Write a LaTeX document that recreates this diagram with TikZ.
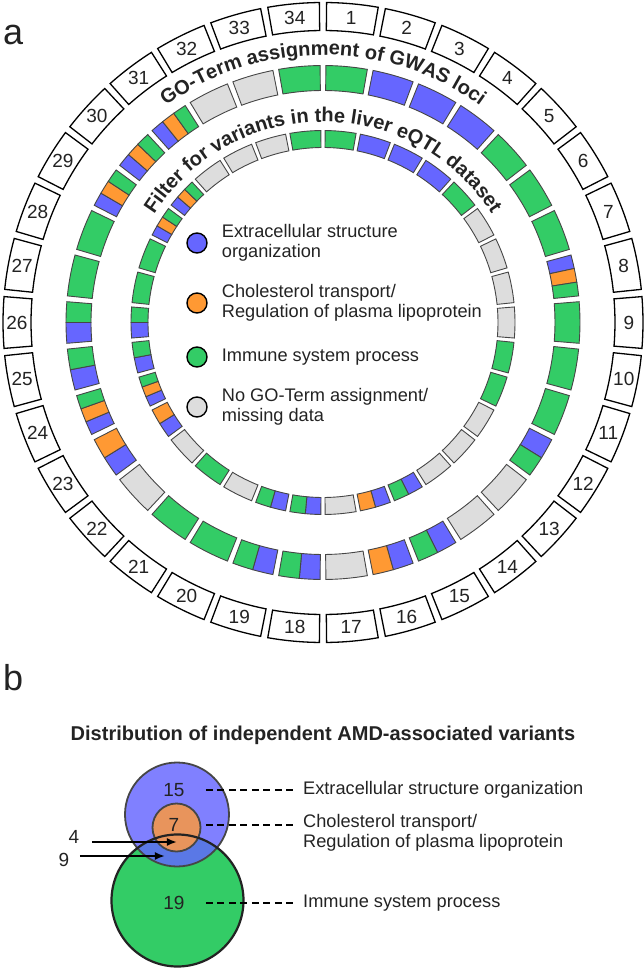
\documentclass[tikz,border=0pt]{standalone}
\usepackage{fontspec}
\setmainfont{Liberation Sans}
\usepackage{tikz}
\usetikzlibrary{positioning, arrows.meta, calc, decorations.text}
\definecolor{segB}{RGB}{102,102,255}
\definecolor{segO}{RGB}{255,153,51}
\definecolor{segG}{RGB}{51,204,102}
\definecolor{segN}{RGB}{221,221,221}
\definecolor{VennBlue}{RGB}{128,128,255}
\definecolor{VennOrange}{RGB}{232,148,92}
\definecolor{VennMix}{RGB}{90,120,230}
\definecolor{InkColor}{RGB}{35,35,35}
\definecolor{EdgeColor}{RGB}{70,70,70}
\newcommand{\ringtitlefont}{\bfseries\fontsize{20}{24}\selectfont}
% #1 inner radius, #2 outer radius, #3 one entry per locus, listed clockwise
\newcommand{\ringsegments}[3]{%
  \foreach \cats [count=\k] in {#3} {
    \foreach \c [count=\n] in \cats {\xdef\nparts{\n}}
    \foreach \c [count=\j] in \cats {
      \pgfmathsetmacro\angA{90-((\k-1)*360/34+0.65+(\j-1)*(360/34-1.3)/\nparts)}
      \pgfmathsetmacro\angB{90-((\k-1)*360/34+0.65+\j*(360/34-1.3)/\nparts)}
      \draw[segment, fill=seg\c] (\angA:#1) arc[start angle=\angA, end angle=\angB, radius=#1]
        -- (\angB:#2) arc[start angle=\angB, end angle=\angA, radius=#2] -- cycle;
    }
  }%
}

\begin{document}
\begin{tikzpicture}[x=1pt, y=1pt,
    numbox/.style={draw=black, line width=1.3pt, fill=white},
    segment/.style={draw=EdgeColor, line width=0.9pt},
    numtext/.style={font=\fontsize{19}{22}\selectfont, text=InkColor, inner sep=0pt},
    keydot/.style={circle, draw=black, line width=1.4pt, minimum size=20pt, inner sep=0pt},
    keytext/.style={font=\fontsize{18.2}{20.5}\selectfont, text=InkColor, align=left, inner sep=0pt},
    panel/.style={font=\fontsize{36}{36}\selectfont, text=InkColor, anchor=base west, inner sep=0pt},
    leader/.style={dash pattern=on 7pt off 4.5pt, line width=1.5pt, draw=black},
    pointer/.style={-{Latex[length=10pt, width=8pt]}, line width=2.2pt, draw=black}]
  \useasboundingbox (-323,-646.5) rectangle (321,322.5);

  % outer ring of locus numbers
  \foreach \k in {1,...,34} {
    \pgfmathsetmacro\angA{90-(\k-1)*360/34-0.65}
    \pgfmathsetmacro\angB{90-\k*360/34+0.65}
    \draw[numbox] (\angA:292) arc[start angle=\angA, end angle=\angB, radius=292]
      -- (\angB:320) arc[start angle=\angB, end angle=\angA, radius=320] -- cycle;
    \node[numtext] (num\k) at ({90-(\k-0.5)*360/34}:306) {\k};
  }

  % GO-Term assignment of GWAS loci
  \ringsegments{232}{257}{{G},{B},{B},{B},{G},{G},{G},{B,O,G},{G},{G},{G},{B,G},{N},{N},{B,G},{B,O},{N},
    {B,G},{B,G},{G},{G},{N},{B,O},{B,O,G},{B,G},{B,G},{G},{G},{B,O,G},{B,O,G},{B,O,G},{N},{N},{G}}
  % liver eQTL filter
  \ringsegments{175}{192}{{G},{B},{B},{B},{G},{N},{N},{N},{N},{G},{G},{N},{N},{N},{B,G},{B,O},{N},
    {B,G},{B,G},{N},{G},{N},{B,O},{B,O,G},{B,G},{B,G},{G},{G},{B,O,G},{B,O,G},{N},{N},{N},{G}}

  \path[decorate, decoration={text along path, text align=center, text color=InkColor,
      text={|\ringtitlefont|GO-Term assignment of GWAS loci}}]
    (180:267.5) arc[start angle=180, end angle=0, radius=267.5];
  \path[decorate, decoration={text along path, text align=center, text color=InkColor,
      text={|\ringtitlefont|Filter for variants in the liver eQTL dataset}}]
    (180:200.5) arc[start angle=180, end angle=0, radius=200.5];

  % legend
  \node[keydot, fill=segB] (keyB) at (-126,79.5) {};
  \node[keytext, right=14pt of keyB] (keyBtext) {Extracellular structure\\organization};
  \node[keydot, fill=segO] (keyO) at (-126,19.5) {};
  \node[keytext, right=14pt of keyO] (keyOtext) {Cholesterol transport/\\Regulation of plasma lipoprotein};
  \node[keydot, fill=segG] (keyG) at (-126,-34.5) {};
  \node[keytext, right=14pt of keyG] (keyGtext) {Immune system process};
  \node[keydot, fill=segN] (keyN) at (-126,-84.5) {};
  \node[keytext, right=14pt of keyN] (keyNtext) {No GO-Term assignment/\\missing data};

  \node[panel] (panelA) at (-320,277.5) {a};
  \node[panel] (panelB) at (-320,-367.5) {b};
  \node[anchor=base, font=\bfseries\fontsize{20}{24}\selectfont, text=InkColor] (heading) at (0,-417.5)
    {Distribution of independent AMD-associated variants};

  % Venn diagram
  \fill[segG] (-145.5,-578) circle (66);
  \fill[VennBlue] (-146,-492) circle (52);
  \begin{scope}
    \clip (-145.5,-578) circle (66);
    \fill[VennMix] (-146,-492) circle (52);
  \end{scope}
  \fill[VennOrange] (-146.5,-505) circle (24);
  \draw[EdgeColor, line width=1.8pt] (-146,-492) circle (52);
  \draw[EdgeColor, line width=1.8pt] (-146.5,-505) circle (24);
  \draw[InkColor, line width=2.2pt] (-145.5,-578) circle (66);

  \node[numtext] (cnt15) at (-149,-467.5) {15};
  \node[numtext] (cnt7) at (-149,-502.5) {7};
  \node[numtext] (cnt19) at (-149,-580.5) {19};
  \node[keytext, anchor=west] (setB) at (-20,-467.5) {Extracellular structure organization};
  \node[keytext, anchor=west] (setO) at (-20,-510.5) {Cholesterol transport/\\Regulation of plasma lipoprotein};
  \node[keytext, anchor=west] (setG) at (-20,-580.5) {Immune system process};
  \draw[leader, shorten <=32pt, shorten >=10pt] (cnt15.center) -- (setB.west);
  \draw[leader, shorten <=32pt, shorten >=10pt] (cnt7.center) -- (cnt7.center -| setO.west);
  \draw[leader, shorten <=32pt, shorten >=10pt] (cnt19.center) -- (setG.west);

  \node[numtext] (cnt4) at (-249,-514.5) {4};
  \node[numtext] (cnt9) at (-259,-537.5) {9};
  \coordinate (tail4) at (-231,-519.5);
  \coordinate (tip4) at (-146,-519.5);
  \coordinate (tail9) at (-243,-533.5);
  \coordinate (tip9) at (-158,-533.5);
  \draw[pointer] (tail4) -- (tip4);
  \draw[pointer] (tail9) -- (tip9);
\end{tikzpicture}
\end{document}
